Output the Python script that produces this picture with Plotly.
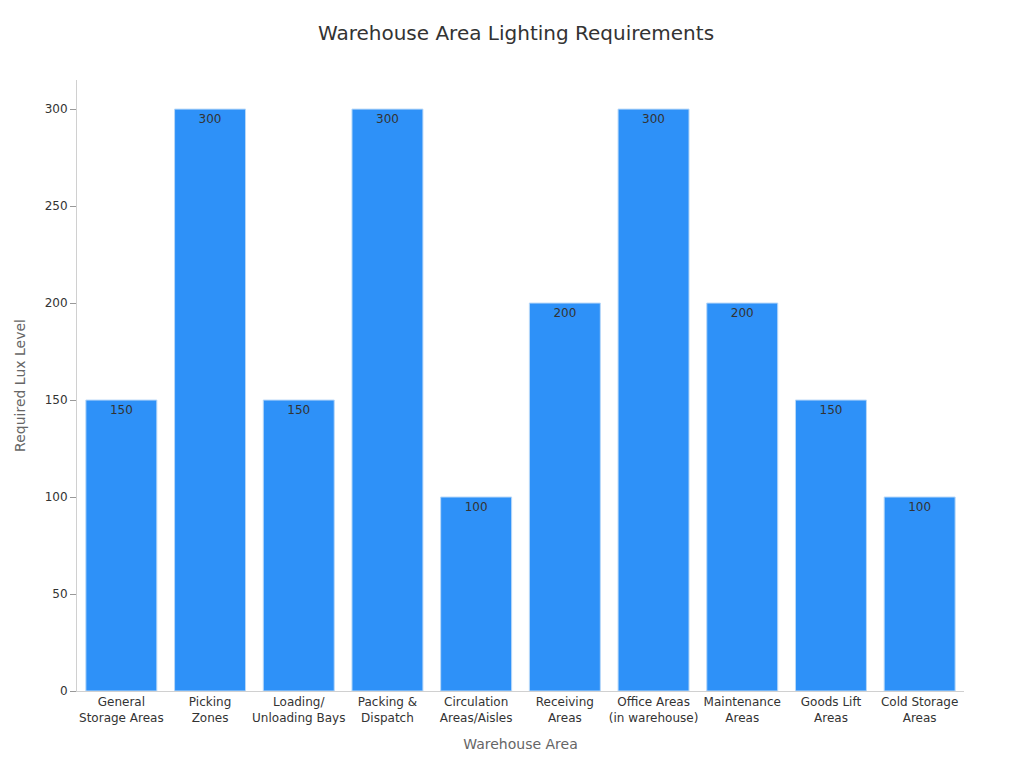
import plotly.graph_objects as go

categories = ["General<br>Storage Areas", "Picking<br>Zones", "Loading/<br>Unloading Bays",
              "Packing &<br>Dispatch", "Circulation<br>Areas/Aisles", "Receiving<br>Areas",
              "Office Areas<br>(in warehouse)", "Maintenance<br>Areas", "Goods Lift<br>Areas",
              "Cold Storage<br>Areas"]
lux = [150, 300, 150, 300, 100, 200, 300, 200, 150, 100]

fig = go.Figure(go.Bar(
    x=categories, y=lux, text=[str(v) for v in lux], textposition="inside",
    insidetextanchor="end", textfont=dict(color="#333333", size=12),
    marker=dict(color="#2E91F8", line=dict(color="#B8D8F8", width=1)),
    width=0.8,
))
fig.update_layout(
    width=1016, height=760, plot_bgcolor="white", paper_bgcolor="white",
    font=dict(family="DejaVu Sans", color="#333333", size=12),
    title=dict(text="Warehouse Area Lighting Requirements", x=0.5, y=0.967,
               xanchor="center", yanchor="middle", font=dict(size=20, color="#333333")),
    margin=dict(l=61, r=60, t=72, b=77),
    showlegend=False,
    xaxis=dict(title=dict(text="Warehouse Area", font=dict(size=14, color="#666666")),
               showline=True, linecolor="#D0D0D0", ticks="", tickfont=dict(size=12)),
    yaxis=dict(title=dict(text="Required Lux Level", font=dict(size=14, color="#666666")),
               range=[0, 315], dtick=50, showgrid=False, showline=True, linecolor="#D0D0D0",
               ticks="outside", tickcolor="#999999", ticklen=6, zeroline=False),
)
fig.write_html("out.html")
